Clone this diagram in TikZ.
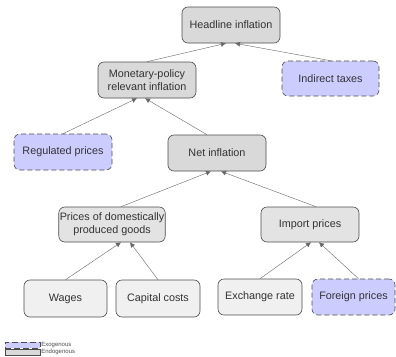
\documentclass[tikz,border=0pt]{standalone}
\usepackage{fontspec}
\setmainfont{Liberation Sans}
\usetikzlibrary{arrows.meta}

\definecolor{endodark}{rgb}{0.850000, 0.850000, 0.850000}
\definecolor{endomid}{rgb}{0.890000, 0.890000, 0.890000}
\definecolor{endolight}{rgb}{0.940000, 0.940000, 0.940000}
\definecolor{exofill}{rgb}{0.800000, 0.800000, 1.000000}
\definecolor{boxline}{rgb}{0.300000, 0.300000, 0.300000}

\tikzset{
  box/.style={draw=boxline, line width=0.6pt, rounded corners=6pt, inner sep=1pt,
    align=center, font=\fontsize{10.8}{13.2}\selectfont, text=black!80},
  endo/.style={box, fill=endodark},
  endomid/.style={box, fill=endomid},
  endolow/.style={box, fill=endolight},
  exo/.style={box, fill=exofill, dashed, dash pattern=on 5pt off 3pt},
  link/.style={draw=black!60, line width=0.4pt, -{Latex[length=5pt,width=5pt]}},
  legendbox/.style={draw=boxline, line width=0.4pt, minimum width=35pt, minimum height=6pt, inner sep=0pt},
  legendtext/.style={font=\fontsize{6}{6}\selectfont, text=black!70, inner sep=1pt, anchor=west}
}

\begin{document}
\begin{tikzpicture}[x=1pt,y=-1pt]
\useasboundingbox (0,0) rectangle (396,356);
% top level
\node (head) [endo, minimum width=98pt, minimum height=36pt] at (231,25) {Headline inflation};
% second level
\node (mon) [endo, minimum width=98pt, minimum height=36pt] at (147,80) {Monetary-policy\\relevant inflation};
\node (ind) [exo, minimum width=97pt, minimum height=35pt] at (330.5,78.5) {Indirect taxes};
% third level
\node (reg) [exo, minimum width=98pt, minimum height=36pt] at (63,152) {Regulated prices};
\node (net) [endo, minimum width=98pt, minimum height=36pt] at (217,153) {Net inflation};
% fourth level
\node (dom) [endomid, minimum width=98pt, minimum height=35pt] at (112,224.5) {Prices of domestically\\produced goods};
\node (imp) [endomid, minimum width=98pt, minimum height=35pt] at (310,224.5) {Import prices};
% bottom level
\node (wag) [endolow, minimum width=83pt, minimum height=37pt] at (65.5,298.5) {Wages};
\node (cap) [endolow, minimum width=84pt, minimum height=37pt] at (158,298.5) {Capital costs};
\node (exc) [endolow, minimum width=84pt, minimum height=36pt] at (260,297) {Exchange rate};
\node (for) [exo, minimum width=83pt, minimum height=36pt] at (353.5,297) {Foreign prices};

% connectors
\draw[link] (mon.north) -- ([xshift=-5pt]head.south);
\draw[link] (ind.north) -- ([xshift=4pt]head.south);
\draw[link] (reg.north) -- ([xshift=-10pt]mon.south);
\draw[link] ([xshift=-10pt]net.north) -- ([xshift=-2pt]mon.south);
\draw[link] ([xshift=9pt]dom.north) -- ([xshift=-6pt]net.south);
\draw[link] ([xshift=6pt]imp.north) -- ([xshift=4pt]net.south);
\draw[link] (wag.north) -- ([xshift=9pt]dom.south);
\draw[link] (cap.north) -- ([xshift=18pt]dom.south);
\draw[link] (exc.north) -- ([xshift=1pt]imp.south);
\draw[link] ([xshift=5pt]for.north) -- ([xshift=9pt]imp.south);

% legend
\node (legexo) [legendbox, fill=exofill, dashed, dash pattern=on 6pt off 3pt] at (22.5,345) {};
\node (legendo) [legendbox, fill=endodark] at (22.5,352) {};
\node (txtexo) [legendtext] at (legexo.east) {Exogenous};
\node (txtendo) [legendtext] at (legendo.east) {Endogenous};
\end{tikzpicture}
\end{document}
